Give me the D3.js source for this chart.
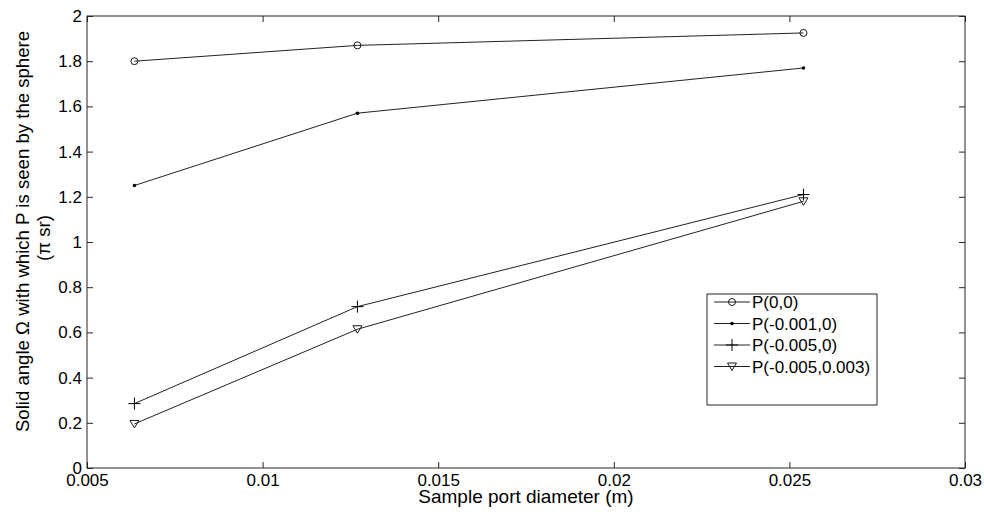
<!DOCTYPE html>
<html>
<head>
<meta charset="utf-8">
<script src="https://cdn.jsdelivr.net/npm/d3@7"></script>
<style>
  html, body { margin: 0; padding: 0; background: #fff; }
  svg { display: block; font-family: Arial, "Liberation Sans", sans-serif; }
</style>
</head>
<body>
<svg id="chart" width="984" height="515"></svg>
<script>
// Sample port diameters (m)
const diameters = [0.00635, 0.0127, 0.0254];

// Solid angle (in units of pi sr) for each point P
const seriesNames = ["P(0,0)", "P(-0.001,0)", "P(-0.005,0)", "P(-0.005,0.003)"];
const p00      = [1.80, 1.87, 1.925];
const p0010    = [1.25, 1.57, 1.77];
const p0050    = [0.285, 0.714, 1.21];
const p005003  = [0.195, 0.614, 1.18];
const markers  = ["circle", "dot", "plus", "triangle"];

const xTicks = [0.005, 0.01, 0.015, 0.02, 0.025, 0.03];
const yTicks = [0, 0.2, 0.4, 0.6, 0.8, 1, 1.2, 1.4, 1.6, 1.8, 2];

const series = [p00, p0010, p0050, p005003].map((vals, i) => ({
  name: seriesNames[i],
  marker: markers[i],
  points: vals.map((v, j) => ({ x: diameters[j], y: v }))
}));

const svg = d3.select("#chart");
const m = { left: 87, right: 965, top: 16, bottom: 468 };

const x = d3.scaleLinear().domain([0.005, 0.03]).range([m.left, m.right]);
const y = d3.scaleLinear().domain([0, 2]).range([m.bottom, m.top]);

const axisColor = "#262626";
const tickFont = 17;

// Frame
svg.append("rect")
  .attr("x", m.left).attr("y", m.top)
  .attr("width", m.right - m.left).attr("height", m.bottom - m.top)
  .attr("fill", "none").attr("stroke", axisColor).attr("stroke-width", 1);

const tickLen = 6;
// Bottom axis (ticks inward)
const gx = svg.append("g").attr("transform", `translate(0,${m.bottom})`)
  .call(d3.axisBottom(x).tickValues(xTicks).tickSizeInner(-tickLen).tickSizeOuter(0)
    .tickPadding(6).tickFormat(d3.format("~g")));
// Top axis ticks
const gxt = svg.append("g").attr("transform", `translate(0,${m.top})`)
  .call(d3.axisTop(x).tickValues(xTicks).tickSizeInner(-tickLen).tickSizeOuter(0).tickFormat(""));
// Left axis
const gy = svg.append("g").attr("transform", `translate(${m.left},0)`)
  .call(d3.axisLeft(y).tickValues(yTicks).tickSizeInner(-tickLen).tickSizeOuter(0)
    .tickPadding(5).tickFormat(d3.format("~g")));
// Right axis ticks
const gyr = svg.append("g").attr("transform", `translate(${m.right},0)`)
  .call(d3.axisRight(y).tickValues(yTicks).tickSizeInner(-tickLen).tickSizeOuter(0).tickFormat(""));

[gx, gxt, gy, gyr].forEach(g => {
  g.select(".domain").remove();
  g.selectAll("line").attr("stroke", axisColor);
  g.selectAll("text").attr("fill", "#000").attr("font-size", tickFont)
    .attr("font-family", "Arial, 'Liberation Sans', sans-serif");
});

// Axis titles
svg.append("text")
  .attr("x", (m.left + m.right) / 2).attr("y", 503)
  .attr("text-anchor", "middle").attr("font-size", 19)
  .text("Sample port diameter (m)");

svg.append("text")
  .attr("transform", "translate(29,231.5) rotate(-90)")
  .attr("text-anchor", "middle").attr("font-size", 18.6)
  .text("Solid angle \u03A9 with which P is seen by the sphere");
svg.append("text")
  .attr("transform", "translate(50,238) rotate(-90)")
  .attr("text-anchor", "middle").attr("font-size", 18.6)
  .text("(\u03C0 sr)");

// Marker drawing
function drawMarker(g, type, cx, cy) {
  const stroke = "#1a1a1a";
  if (type === "circle") {
    g.append("circle").attr("cx", cx).attr("cy", cy).attr("r", 3.5)
      .attr("fill", "none").attr("stroke", stroke).attr("stroke-width", 1);
  } else if (type === "dot") {
    g.append("circle").attr("cx", cx).attr("cy", cy).attr("r", 1.8)
      .attr("fill", "#000");
  } else if (type === "plus") {
    g.append("path").attr("d", `M${cx - 6},${cy}H${cx + 6}M${cx},${cy - 6}V${cy + 6}`)
      .attr("stroke", "#000").attr("stroke-width", 1).attr("fill", "none");
  } else if (type === "triangle") {
    g.append("path").attr("d", `M${cx - 4.5},${cy - 3.5}L${cx + 4.5},${cy - 3.5}L${cx},${cy + 4}Z`)
      .attr("stroke", stroke).attr("stroke-width", 1).attr("fill", "none");
  }
}

const line = d3.line().x(d => x(d.x)).y(d => y(d.y));
const plot = svg.append("g");
series.forEach(s => {
  plot.append("path").datum(s.points).attr("d", line)
    .attr("fill", "none").attr("stroke", "#222").attr("stroke-width", 1);
  s.points.forEach(p => drawMarker(plot, s.marker, x(p.x), y(p.y)));
});

// Legend
const lg = svg.append("g");
const lx = 707, ly = 294, lw = 170, lh = 111;
lg.append("rect").attr("x", lx).attr("y", ly).attr("width", lw).attr("height", lh)
  .attr("fill", "#fff").attr("stroke", axisColor).attr("stroke-width", 1);
series.forEach((s, i) => {
  const ry = ly + 8 + i * 21.5;
  lg.append("line").attr("x1", lx + 7).attr("x2", lx + 43).attr("y1", ry).attr("y2", ry)
    .attr("stroke", "#222").attr("stroke-width", 1);
  drawMarker(lg, s.marker, lx + 25, ry);
  lg.append("text").attr("x", lx + 45).attr("y", ry).attr("dy", "0.36em")
    .attr("font-size", 17).text(s.name);
});
</script>
</body>
</html>
